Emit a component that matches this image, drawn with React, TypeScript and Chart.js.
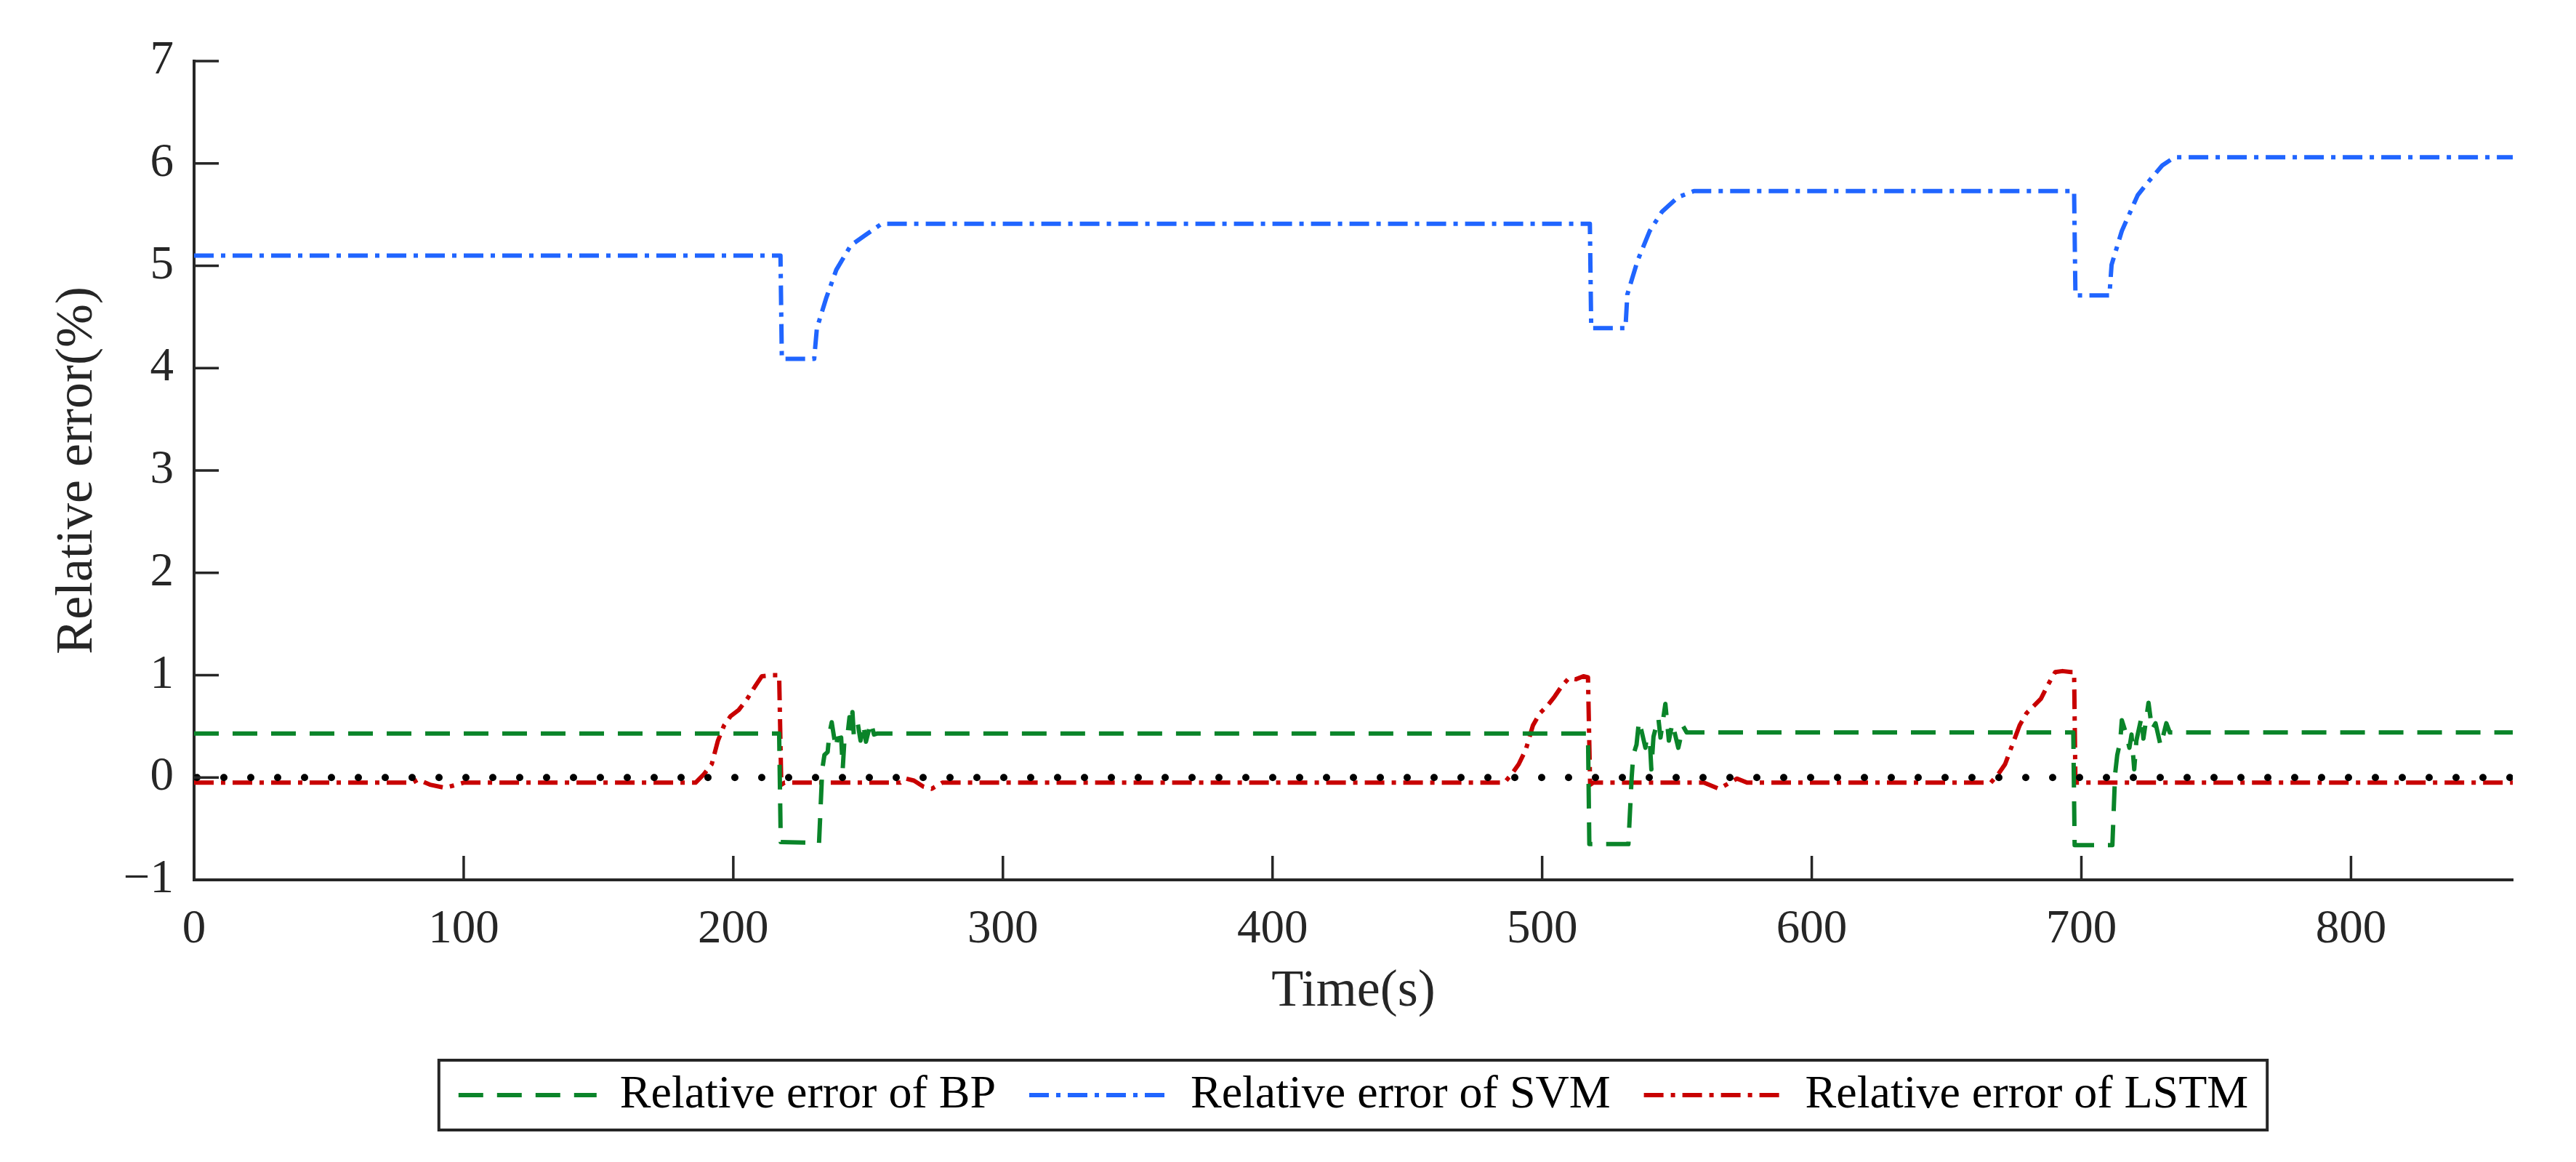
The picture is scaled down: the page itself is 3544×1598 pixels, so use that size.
import { useEffect, useRef } from "react";
import { Chart, registerables } from "chart.js";

Chart.register(...registerables);

// time (s), relative error (%)
const zeroLine: [number, number][] = [
  [0, 0],
  [860, 0],
];

const bpError: [number, number][] = [
  [0, 0.43], [217, 0.43], [217.6, -0.63], [231.8, -0.64], [233, 0.08],
  [233.8, 0.22], [235, 0.25], [235.6, 0.42], [236.5, 0.54], [238, 0.29],
  [238.6, 0.38], [240, 0.39], [240.6, 0.09], [241.2, 0.36], [242.5, 0.45],
  [243.1, 0.59], [243.6, 0.48], [244.2, 0.64], [244.7, 0.41], [245.6, 0.5],
  [246.2, 0.52], [247.2, 0.36], [248.2, 0.52], [249.2, 0.35], [251, 0.54],
  [252.2, 0.42], [253.5, 0.43], [517, 0.43], [517.5, -0.65], [532, -0.65],
  [533.2, 0.0], [533.8, 0.22], [535, 0.32], [535.9, 0.55], [537, 0.44],
  [538.3, 0.29], [538.8, 0.39], [540, 0.33], [540.5, 0.08], [541.3, 0.4],
  [543.1, 0.58], [543.9, 0.39], [545.7, 0.72], [547, 0.36], [548.3, 0.53],
  [550.5, 0.29], [552.3, 0.5], [553.6, 0.44], [555, 0.44], [697, 0.44],
  [697.5, -0.66], [711.5, -0.66], [712.5, 0.03], [713.3, 0.22], [714.4, 0.35],
  [715, 0.56], [716.8, 0.41], [717.8, 0.29], [718.6, 0.42], [719.6, 0.08],
  [720.4, 0.36], [722.3, 0.59], [723, 0.38], [724.9, 0.73], [726.2, 0.47],
  [727.5, 0.53], [729.4, 0.31], [731.5, 0.53], [732.8, 0.44], [735, 0.44],
  [860, 0.44],
];

const svmError: [number, number][] = [
  [0, 5.1], [217.5, 5.1], [218, 4.09], [230, 4.09], [231, 4.39],
  [234.4, 4.68], [238.2, 4.96], [243.6, 5.2], [249, 5.3], [255, 5.41],
  [517.7, 5.41], [518.2, 4.39], [530.9, 4.39], [531.6, 4.72], [535.4, 5.05],
  [539.9, 5.34], [544.5, 5.53], [550.4, 5.67], [556.3, 5.73], [697.3, 5.73],
  [697.8, 4.71], [710.4, 4.71], [711.2, 5.01], [715, 5.34], [720.9, 5.69],
  [724.5, 5.81], [730, 5.98], [734.5, 6.06], [860, 6.06],
];

const lstmError: [number, number][] = [
  [0, -0.05], [81, -0.05], [83, -0.02], [87.5, -0.07], [93, -0.1],
  [96, -0.08], [100, -0.05], [186, -0.05], [189, 0.03], [192, 0.13],
  [194.3, 0.36], [196.6, 0.51], [199, 0.6], [202, 0.66], [205.2, 0.77],
  [208.3, 0.9], [210.6, 0.99], [214.5, 1.0], [217, 1.0], [217.8, -0.07],
  [219, -0.05], [262, -0.05], [264, -0.01], [267, -0.03], [270.6, -0.09],
  [273.6, -0.11], [277.5, -0.05], [486, -0.05], [488.6, 0.03], [491.3, 0.13],
  [493.9, 0.27], [496.6, 0.51], [499.2, 0.63], [501.9, 0.7], [504.6, 0.79],
  [507.2, 0.89], [509.9, 0.97], [512.5, 0.96], [515.3, 0.99], [517, 0.98],
  [517.8, -0.07], [519, -0.05], [560, -0.05], [565.6, -0.11], [569, -0.06],
  [572.3, -0.01], [576, -0.05], [666.4, -0.05], [669.1, 0.03], [671.7, 0.13],
  [674.4, 0.32], [677.1, 0.51], [679.7, 0.63], [682.4, 0.7], [685, 0.77],
  [687.7, 0.91], [690.3, 1.03], [693, 1.04], [696.2, 1.03], [697.3, 1.03],
  [697.8, -0.05], [860, -0.05],
];

const seriesLabels = [
  "Relative error of BP",
  "Relative error of SVM",
  "Relative error of LSTM",
];

const FONT = "'Liberation Serif', 'Times New Roman', serif";
const AXIS_COLOR = "#262626";

const toXY = (pts: [number, number][]) => pts.map(([x, y]) => ({ x, y }));

// ticks drawn inside the plot, like the original figure
const innerTicks = {
  id: "innerTicks",
  afterDatasetsDraw(chart: any) {
    const { ctx, chartArea, scales } = chart;
    ctx.save();
    ctx.strokeStyle = AXIS_COLOR;
    ctx.lineWidth = 3.5;
    ctx.beginPath();
    scales.x.ticks.forEach((t: any) => {
      const px = scales.x.getPixelForValue(t.value);
      ctx.moveTo(px, chartArea.bottom);
      ctx.lineTo(px, chartArea.bottom - 33);
    });
    scales.y.ticks.forEach((t: any) => {
      const py = scales.y.getPixelForValue(t.value);
      ctx.moveTo(chartArea.left, py);
      ctx.lineTo(chartArea.left + 34, py);
    });
    ctx.stroke();
    ctx.restore();
  },
};

// center the legend under the plot and frame it
const legendFrame = {
  id: "legendFrame",
  afterLayout(chart: any) {
    const lg = chart.legend;
    if (!lg) return;
    lg.left = chart.chartArea.left;
    lg.right = chart.chartArea.right;
    lg.width = lg.right - lg.left;
  },
  afterDraw(chart: any) {
    const lg = chart.legend;
    if (!lg || !lg.lineWidths) return;
    const pad = lg.options.labels.padding;
    const content = lg.lineWidths[0] - pad;
    const cx = (lg.left + lg.right) / 2;
    const cy = lg.top + pad + 32;
    const { ctx } = chart;
    ctx.save();
    ctx.strokeStyle = AXIS_COLOR;
    ctx.lineWidth = 4;
    ctx.strokeRect(cx - content / 2 - 27, cy - 48, content + 53, 96);
    ctx.restore();
  },
};

export default function App() {
  const canvasRef = useRef<HTMLCanvasElement | null>(null);

  useEffect(() => {
    document.body.style.margin = "0";
    document.body.style.overflow = "hidden";
    if (!canvasRef.current) return;

    const lineBase = {
      borderWidth: 6,
      borderJoinStyle: "round",
      pointRadius: 0,
      tension: 0,
      fill: false,
    };

    const chart = new Chart(canvasRef.current, {
      type: "line",
      data: {
        datasets: [
          {
            ...lineBase,
            label: "",
            data: toXY(zeroLine),
            borderColor: "#000000",
            borderWidth: 10,
            borderDash: [0, 37],
            borderDashOffset: -4,
            borderCapStyle: "round",
          },
          {
            ...lineBase,
            label: seriesLabels[0],
            data: toXY(bpError),
            borderColor: "#0A8429",
            borderDash: [34, 19],
          },
          {
            ...lineBase,
            label: seriesLabels[1],
            data: toXY(svmError),
            borderColor: "#2065FF",
            borderDash: [27, 10, 6, 10],
          },
          {
            ...lineBase,
            label: seriesLabels[2],
            data: toXY(lstmError),
            borderColor: "#C80000",
            borderDash: [27, 10, 6, 10],
          },
        ],
      },
      options: {
        responsive: false,
        devicePixelRatio: 1,
        animation: false,
        layout: {
          padding: { left: 0, right: 87, top: 84, bottom: 50 },
        },
        plugins: {
          tooltip: { enabled: false },
          legend: {
            display: true,
            position: "bottom",
            labels: {
              usePointStyle: true,
              pointStyleWidth: 190,
              boxHeight: 64,
              padding: 46,
              color: "#000000",
              font: { family: FONT, size: 64 },
              generateLabels: (c: any) =>
                c.data.datasets
                  .map((ds: any, i: number) => ({
                    text: ds.label,
                    fillStyle: "transparent",
                    strokeStyle: ds.borderColor,
                    fontColor: "#000000",
                    lineWidth: ds.borderWidth,
                    lineDash: ds.borderDash,
                    lineCap: "butt",
                    pointStyle: "line",
                    hidden: false,
                    datasetIndex: i,
                  }))
                  .filter((item: any) => item.text !== ""),
            },
          },
        },
        scales: {
          x: {
            type: "linear",
            min: 0,
            max: 860,
            afterFit: (scale: any) => {
              scale.height = 218;
            },
            border: { display: true, color: AXIS_COLOR, width: 4 },
            grid: { display: true, drawOnChartArea: false, drawTicks: false },
            ticks: {
              stepSize: 100,
              includeBounds: false,
              padding: 30,
              color: AXIS_COLOR,
              font: { family: FONT, size: 65 },
              maxRotation: 0,
            },
            title: {
              display: true,
              text: "Time(s)",
              color: AXIS_COLOR,
              font: { family: FONT, size: 72 },
              padding: { top: 0, bottom: 21 },
            },
          },
          y: {
            type: "linear",
            min: -1,
            max: 7,
            afterFit: (scale: any) => {
              scale.width = 267;
            },
            border: { display: true, color: AXIS_COLOR, width: 4 },
            grid: { display: true, drawOnChartArea: false, drawTicks: false },
            ticks: {
              stepSize: 1,
              padding: 28,
              color: AXIS_COLOR,
              font: { family: FONT, size: 65 },
              callback: (value: any) =>
                Number(value) < 0 ? "\u2212" + Math.abs(Number(value)) : String(value),
            },
            title: {
              display: true,
              text: "Relative error(%)",
              color: AXIS_COLOR,
              font: { family: FONT, size: 72 },
              padding: { top: 64, bottom: 0 },
            },
          },
        },
      },
      plugins: [innerTicks, legendFrame],
    } as any);

    return () => {
      chart.destroy();
    };
  }, []);

  return (
    <div style={{ width: "3544px", height: "1598px", background: "#ffffff" }}>
      <canvas
        ref={canvasRef}
        width={3544}
        height={1598}
        style={{ width: "3544px", height: "1598px", display: "block" }}
      />
    </div>
  );
}
